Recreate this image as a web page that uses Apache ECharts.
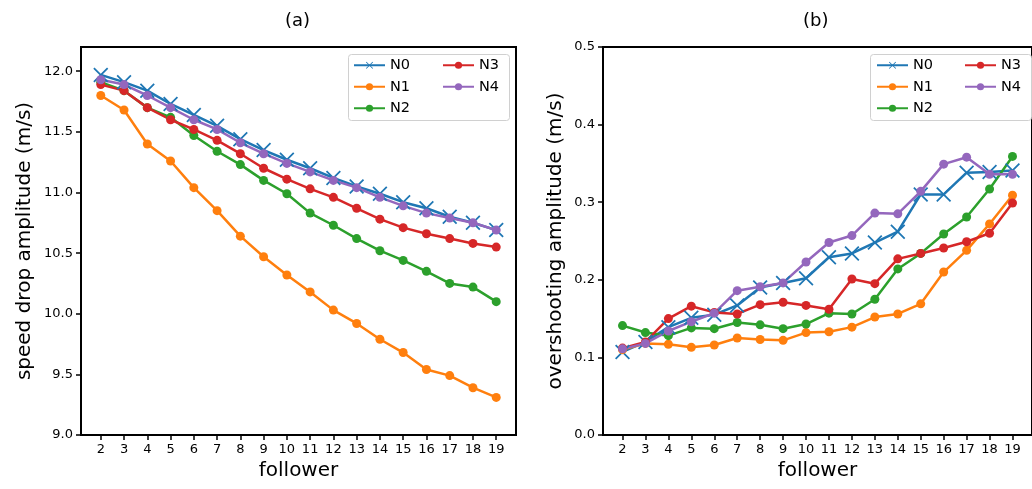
<!DOCTYPE html>
<html>
<head>
<meta charset="utf-8">
<script src="https://cdn.jsdelivr.net/npm/echarts@6/dist/echarts.min.js"></script>
<style>
  html, body { margin: 0; padding: 0; background: #fff; }
  #chart { width: 1032px; height: 489px; }
</style>
</head>
<body>
<div id="chart"></div>
<script>
const followers = [2, 3, 4, 5, 6, 7, 8, 9, 10, 11, 12, 13, 14, 15, 16, 17, 18, 19]
const names = ['N0', 'N1', 'N2', 'N3', 'N4']
const colors = ['#1f77b4', '#ff7f0e', '#2ca02c', '#d62728', '#9467bd']

// (a) speed drop amplitude (m/s)
const dropN0 = [11.97, 11.91, 11.84, 11.73, 11.64, 11.55, 11.44, 11.35, 11.27, 11.20, 11.12, 11.05, 10.99, 10.92, 10.87, 10.80, 10.75, 10.69]
const dropN1 = [11.80, 11.68, 11.40, 11.26, 11.04, 10.85, 10.64, 10.47, 10.32, 10.18, 10.03, 9.92, 9.79, 9.68, 9.54, 9.49, 9.39, 9.31]
const dropN2 = [11.91, 11.84, 11.70, 11.62, 11.47, 11.34, 11.23, 11.10, 10.99, 10.83, 10.73, 10.62, 10.52, 10.44, 10.35, 10.25, 10.22, 10.10]
const dropN3 = [11.89, 11.84, 11.70, 11.60, 11.52, 11.43, 11.32, 11.20, 11.11, 11.03, 10.96, 10.87, 10.78, 10.71, 10.66, 10.62, 10.58, 10.55]
const dropN4 = [11.93, 11.89, 11.80, 11.70, 11.60, 11.52, 11.41, 11.32, 11.24, 11.17, 11.10, 11.04, 10.96, 10.89, 10.83, 10.79, 10.75, 10.69]

// (b) overshooting amplitude (m/s)
const overN0 = [0.107, 0.120, 0.139, 0.151, 0.155, 0.167, 0.190, 0.196, 0.202, 0.229, 0.234, 0.248, 0.262, 0.310, 0.310, 0.338, 0.339, 0.341]
const overN1 = [0.110, 0.118, 0.117, 0.113, 0.116, 0.125, 0.123, 0.122, 0.132, 0.133, 0.139, 0.152, 0.156, 0.169, 0.210, 0.238, 0.272, 0.309]
const overN2 = [0.141, 0.132, 0.128, 0.138, 0.137, 0.145, 0.142, 0.137, 0.143, 0.157, 0.156, 0.175, 0.214, 0.234, 0.259, 0.281, 0.317, 0.359]
const overN3 = [0.112, 0.120, 0.150, 0.166, 0.158, 0.156, 0.168, 0.171, 0.167, 0.162, 0.201, 0.195, 0.227, 0.234, 0.241, 0.249, 0.260, 0.299]
const overN4 = [0.111, 0.118, 0.134, 0.146, 0.157, 0.186, 0.191, 0.196, 0.223, 0.248, 0.257, 0.286, 0.285, 0.314, 0.349, 0.358, 0.336, 0.336]

const dropTicks = [9.0, 9.5, 10.0, 10.5, 11.0, 11.5, 12.0]
const overTicks = [0.0, 0.1, 0.2, 0.3, 0.4, 0.5]

const dropData = [dropN0, dropN1, dropN2, dropN3, dropN4]
const overData = [overN0, overN1, overN2, overN3, overN4]

const FONT = 'DejaVu Sans'
const crossPath = 'path://M0,1 L1,0 L6,5 L11,0 L12,1 L7,6 L12,11 L11,12 L6,7 L1,12 L0,11 L5,6 Z'

const chart = echarts.init(document.getElementById('chart'), null, { renderer: 'canvas' })

const makeX = (gridIndex) => ({
  type: 'value',
  gridIndex,
  min: 1.15,
  max: 19.85,
  name: 'follower',
  nameLocation: 'middle',
  nameGap: 22,
  nameTextStyle: { fontFamily: FONT, fontSize: 20, color: '#000' },
  axisLine: { show: true, onZero: false, lineStyle: { color: '#000', width: 2 } },
  axisTick: { show: true, length: 5, lineStyle: { color: '#000', width: 1.5 }, customValues: followers },
  axisLabel: { fontFamily: FONT, fontSize: 13, color: '#000', margin: 8, customValues: followers },
  splitLine: { show: false }
})

const makeY = (gridIndex, min, max, ticks, title, gap) => ({
  type: 'value',
  gridIndex,
  min,
  max,
  name: title,
  nameLocation: 'middle',
  nameGap: gap,
  nameTextStyle: { fontFamily: FONT, fontSize: 20, color: '#000' },
  axisLine: { show: true, lineStyle: { color: '#000', width: 2 } },
  axisTick: { show: true, length: 5, lineStyle: { color: '#000', width: 1.5 }, customValues: ticks },
  axisLabel: {
    fontFamily: FONT, fontSize: 13, color: '#000', margin: 8, customValues: ticks,
    formatter: v => v.toFixed(1)
  },
  splitLine: { show: false }
})

const series = []
;[dropData, overData].forEach((group, g) => {
  group.forEach((vals, i) => {
    series.push({
      name: names[i],
      type: 'line',
      xAxisIndex: g,
      yAxisIndex: g,
      data: followers.map((f, k) => [f, vals[k]]),
      symbol: i === 0 ? crossPath : 'circle',
      symbolSize: i === 0 ? 15 : 9,
      showSymbol: true,
      animation: false,
      lineStyle: { color: colors[i], width: 2.5 },
      itemStyle: { color: colors[i], borderWidth: 0 },
      emphasis: { disabled: true }
    })
  })
})

const legendBase = {
  orient: 'vertical',
  itemWidth: 31,
  itemHeight: 9,
  itemGap: 5,
  padding: 0,
  textStyle: { fontFamily: FONT, fontSize: 14.5, color: '#000', lineHeight: 16.5 },
  selectedMode: false
}

const titleStyle = { fontFamily: FONT, fontSize: 18, fontWeight: 'normal', color: '#000' }

const option = {
  backgroundColor: '#fff',
  animation: false,
  color: colors,
  title: [
    { text: '(a)', left: 285, top: 12, padding: 0, textStyle: titleStyle },
    { text: '(b)', left: 803, top: 12, padding: 0, textStyle: titleStyle }
  ],
  grid: [
    { left: 81, top: 47, width: 435, height: 388, show: true, borderColor: '#000', borderWidth: 2, backgroundColor: 'transparent' },
    { left: 603, top: 47, width: 435, height: 388, show: true, borderColor: '#000', borderWidth: 2, backgroundColor: 'transparent' }
  ],
  xAxis: [makeX(0), makeX(1)],
  yAxis: [
    makeY(0, 9.0, 12.2, dropTicks, 'speed drop amplitude (m/s)', 46),
    makeY(1, 0.0, 0.5, overTicks, 'overshooting amplitude (m/s)', 37)
  ],
  legend: [
    Object.assign({}, legendBase, { left: 353, top: 57, data: ['N0', 'N1', 'N2'] }),
    Object.assign({}, legendBase, { left: 442, top: 57, data: ['N3', 'N4'] }),
    Object.assign({}, legendBase, { left: 876, top: 57, data: ['N0', 'N1', 'N2'] }),
    Object.assign({}, legendBase, { left: 964, top: 57, data: ['N3', 'N4'] })
  ],
  graphic: [
    { type: 'rect', z: 3, shape: { x: 348.5, y: 54.5, width: 161, height: 66, r: 3 }, style: { fill: 'rgba(255,255,255,0.8)', stroke: '#d0d0d0', lineWidth: 1 } },
    { type: 'rect', z: 3, shape: { x: 870.5, y: 54.5, width: 161, height: 66, r: 3 }, style: { fill: 'rgba(255,255,255,0.8)', stroke: '#d0d0d0', lineWidth: 1 } }
  ],
  series
}

chart.setOption(option)
</script>
</body>
</html>
